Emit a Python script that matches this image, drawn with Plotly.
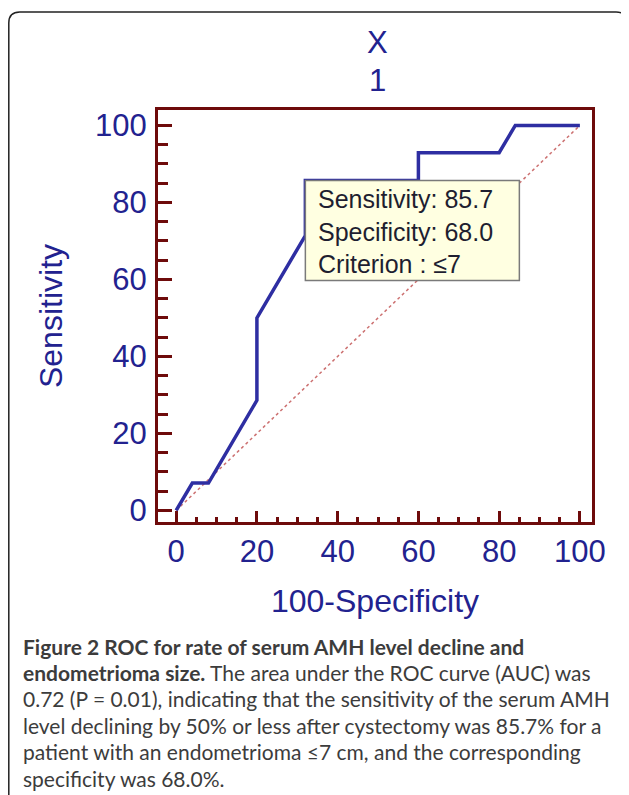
import plotly.graph_objects as go

# ---- data ----
fpr = [0, 4, 8, 20, 20, 32, 32, 60, 60, 80, 84, 100]          # 100-Specificity
tpr = [0, 7.1, 7.1, 28.6, 50.0, 71.4, 85.7, 85.7, 92.9, 92.9, 100, 100]  # Sensitivity
diag_x = [0, 100]
diag_y = [0, 100]
tick_vals = [0, 20, 40, 60, 80, 100]
crit_sens = 85.7
crit_spec = 68.0
crit_label = "≤7"
title_lines = ["X", "1"]
caption_lines = [
    "<b>Figure 2 ROC for rate of serum AMH level decline and</b>",
    "<b>endometrioma size.</b> The area under the ROC curve (AUC) was",
    "0.72 (P = 0.01), indicating that the sensitivity of the serum AMH",
    "level declining by 50% or less after cystectomy was 85.7% for a",
    "patient with an endometrioma ≤7 cm, and the corresponding",
    "specificity was 68.0%.",
]

OFF = 8  # browser default body margin
W, H = 629 - OFF, 795 - OFF
L, R, T, B = 158 - OFF, 592 - OFF, 110 - OFF, 522 - OFF  # plot area in figure pixels
PW, PH = R - L, B - T

def px(x):  # x in page pixels -> paper
    return (x - OFF - L) / PW

def py(y):  # y in page pixels -> paper
    return (B - (y - OFF)) / PH

FRAME = "#6e0b0b"
NAVY = "#22228f"
ARIAL = "Liberation Sans, Arial, sans-serif"

fig = go.Figure()
fig.add_trace(go.Scatter(x=diag_x, y=diag_y, mode="lines",
                         line=dict(color="#cc7070", width=1.5, dash="dot"),
                         hoverinfo="skip", showlegend=False))
fig.add_trace(go.Scatter(x=fpr, y=tpr, mode="lines",
                         line=dict(color="#2e2ea2", width=3.5),
                         showlegend=False))

axis_common = dict(
    showgrid=False, zeroline=False, showline=True, mirror=True, automargin=False,
    linecolor=FRAME, linewidth=3, ticks="inside", tickcolor=FRAME,
    tickwidth=3, tickvals=tick_vals,
    tickfont=dict(family=ARIAL, size=31, color=NAVY),
)
fig.update_xaxes(**axis_common, range=[-4.5, 103], ticklen=11,
                 minor=dict(dtick=5, ticks="inside", ticklen=5, tickwidth=2.5, tickcolor=FRAME),
                 ticklabelstandoff=0,
                 title=dict(text="100-Specificity", font=dict(family=ARIAL, size=32, color=NAVY), standoff=22))
fig.update_yaxes(**axis_common, range=[-3, 104], ticklen=14,
                 minor=dict(dtick=5, ticks="inside", ticklen=10, tickwidth=2.5, tickcolor=FRAME),
                 ticklabelstandoff=2,
                 title=dict(text="Sensitivity", font=dict(family=ARIAL, size=32, color=NAVY), standoff=23))

# criterion box anchored at the selected ROC point
cx, cy = 100 - crit_spec, crit_sens
fig.add_shape(type="rect", xref="x", yref="y", xsizemode="pixel", ysizemode="pixel",
              xanchor=cx, yanchor=cy, x0=0, x1=214, y0=0, y1=-100,
              fillcolor="#ffffe1", line=dict(color="#7a7a7a", width=1.5), layer="above")
fig.add_annotation(
    x=cx, y=cy, xref="x", yref="y", xshift=11, yshift=-3,
    xanchor="left", yanchor="top", showarrow=False, align="left",
    text=f"Sensitivity: {crit_sens:.1f}<br>Specificity: {crit_spec:.1f}<br>Criterion : {crit_label}",
    font=dict(family=ARIAL, size=25, color="#1e1e30"),
)

# title
for i, t in enumerate(title_lines):
    fig.add_annotation(x=px(377), y=py(43 + 37 * i), xref="paper", yref="paper",
                       text=t, showarrow=False, xanchor="center", yanchor="middle",
                       font=dict(family=ARIAL, size=31, color=NAVY))

# caption
for i, t in enumerate(caption_lines):
    fig.add_annotation(x=px(21), y=py(646 + 26.4 * i), xref="paper", yref="paper",
                       text=t, showarrow=False, xanchor="left", yanchor="middle",
                       font=dict(family="Lato, Open Sans, sans-serif", size=21, color="#3c3c3c"))

# outer rounded border
x0, x1, y0, y1, r = px(8.8), px(627), py(12), py(820), 11
rx, ry = r / PW, r / PH
path = (f"M {x0},{y1} L {x0},{y0 - ry} Q {x0},{y0} {x0 + rx},{y0} "
        f"L {x1 - rx},{y0} Q {x1},{y0} {x1},{y0 - ry} L {x1},{y1}")
fig.add_shape(type="path", path=path, xref="paper", yref="paper",
              line=dict(color="#222222", width=1.5), layer="below")

fig.update_layout(
    width=W, height=H,
    margin=dict(l=L, r=W - R, t=T, b=H - B, autoexpand=False),
    paper_bgcolor="white", plot_bgcolor="white",
    showlegend=False,
)
fig.write_html("out.html")
